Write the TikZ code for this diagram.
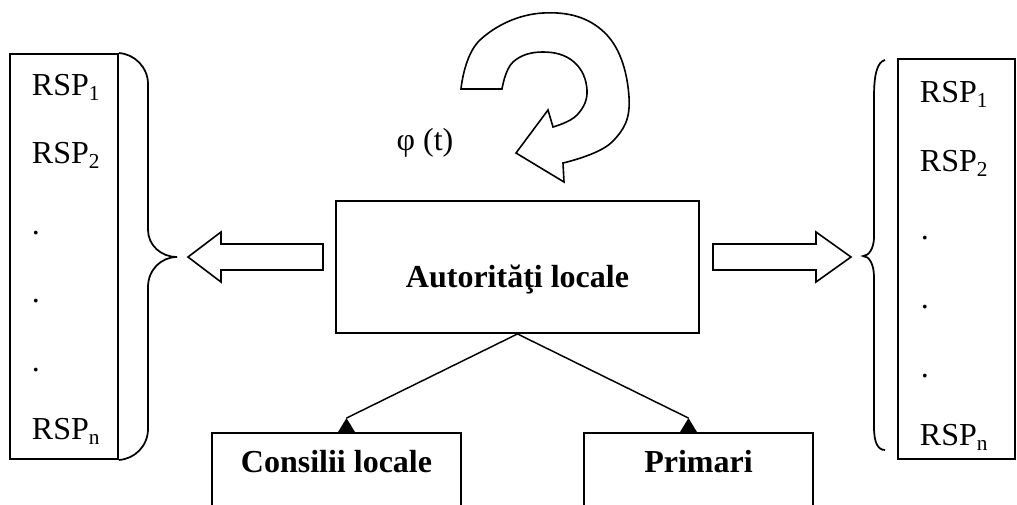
\documentclass[tikz,border=0pt]{standalone}
\usepackage{fontspec}
\setmainfont{Liberation Serif}
\usetikzlibrary{calc}
\newlength\pxu
\setlength\pxu{0.75pt}
\newcommand\sbs[1]{\raisebox{-0.16em}{\fontsize{16}{16}\selectfont #1}}
\begin{document}
\begin{tikzpicture}[x=0.75pt,y=-0.75pt,
  line width=1.4pt, line join=miter,
  box/.style={draw, inner sep=0pt, fill=white},
  lbl/.style={inner sep=0pt, anchor=base west, font=\fontsize{24}{28}\selectfont},
  boldlbl/.style={inner sep=0pt, anchor=base, font=\fontsize{24}{28}\selectfont\bfseries},
  blockarrow/.style={draw, fill=white, line width=1.2pt},
  link/.style={draw, line width=1.1pt},
  bracepath/.style={draw, line width=1.3pt}]
\clip (0,0) rectangle (1017,504);
\useasboundingbox (0,0) rectangle (1017,504);

% boxes
\node[box, minimum width=363\pxu, minimum height=132\pxu] (auth) at (517.5,267) {};
\node[boldlbl] (authT) at (517.5,287) {Autorităţi locale};
\node[box, minimum width=108\pxu, minimum height=405\pxu] (lbox) at (64,256.5) {};
\node[box, minimum width=117\pxu, minimum height=400\pxu] (rbox) at (956.5,259) {};
\node[box, minimum width=249\pxu, minimum height=100\pxu] (cons) at (336.5,483) {};
\node[box, minimum width=229\pxu, minimum height=100\pxu] (prim) at (698.5,483) {};
\node[boldlbl] (consT) at (336.5,472) {Consilii locale};
\node[boldlbl] (primT) at (698.5,472) {Primari};

% left list
\node[lbl] (l1) at (31,95) {RSP\sbs{1}};
\node[lbl] (l2) at (31,163) {RSP\sbs{2}};
\node[lbl] (l3) at (31,234) {.};
\node[lbl] (l4) at (31,302) {.};
\node[lbl] (l5) at (31,371) {.};
\node[lbl] (l6) at (31,439) {RSP\sbs{n}};

% right list
\node[lbl] (r1) at (919,102) {RSP\sbs{1}};
\node[lbl] (r2) at (919,171) {RSP\sbs{2}};
\node[lbl] (r3) at (920,239) {.};
\node[lbl] (r4) at (920,308) {.};
\node[lbl] (r5) at (920,377) {.};
\node[lbl] (r6) at (919,445) {RSP\sbs{n}};

% phi label
\node[lbl, anchor=base] (phi) at (425,150) {φ (t)};

% left brace
\draw[bracepath] (lbox.north east) .. controls (134.6,54) and (148,67.4) .. (148,84)
  -- (148,230) .. controls (148,245) and (161,257) .. (177,257)
  .. controls (161,257) and (148,270) .. (148,287)
  -- (148,429) .. controls (148,446) and (134.6,459) .. (lbox.south east);

% right brace
\draw[bracepath] (885,60) .. controls (877,62) and (874,75) .. (874,97)
  -- (874,237) .. controls (874,248) and (869,256) .. (863,256)
  .. controls (869,256) and (874,264) .. (874,277)
  -- (874,427) .. controls (874,443) and (878,450) .. (885,450);

% block arrows
\draw[blockarrow] (323,244) -- (221,244) -- (221,232) -- (188,257) -- (221,282) -- (221,270) -- (323,270) -- cycle;
\draw[blockarrow] (713,244) -- (816,244) -- (816,232) -- (851,257) -- (816,282) -- (816,270) -- (713,270) -- cycle;

% curved arrow
\draw[blockarrow] plot[smooth, tension=0.7] coordinates {(461,89) (480,40) (543,13) (605,33) (629,97) (612,142) (563,163)}
  -- (564,182) -- (516,153) -- (548,110)
  -- plot[smooth, tension=0.7] coordinates {(553,127) (577,115) (587,90) (574,62) (543,52) (513,62) (502,89)}
  -- cycle;

% connectors
\coordinate (tipL) at ($(cons.north)+(10,-14)$);
\coordinate (tipR) at ($(prim.north)+(-10,-14)$);
\draw[link] (auth.south) -- (tipL);
\draw[link] (auth.south) -- (tipR);
\fill (tipL) -- ++(-8.5,14) -- ++(17,0) -- cycle;
\fill (tipR) -- ++(-8.5,14) -- ++(17,0) -- cycle;
\end{tikzpicture}
\end{document}
